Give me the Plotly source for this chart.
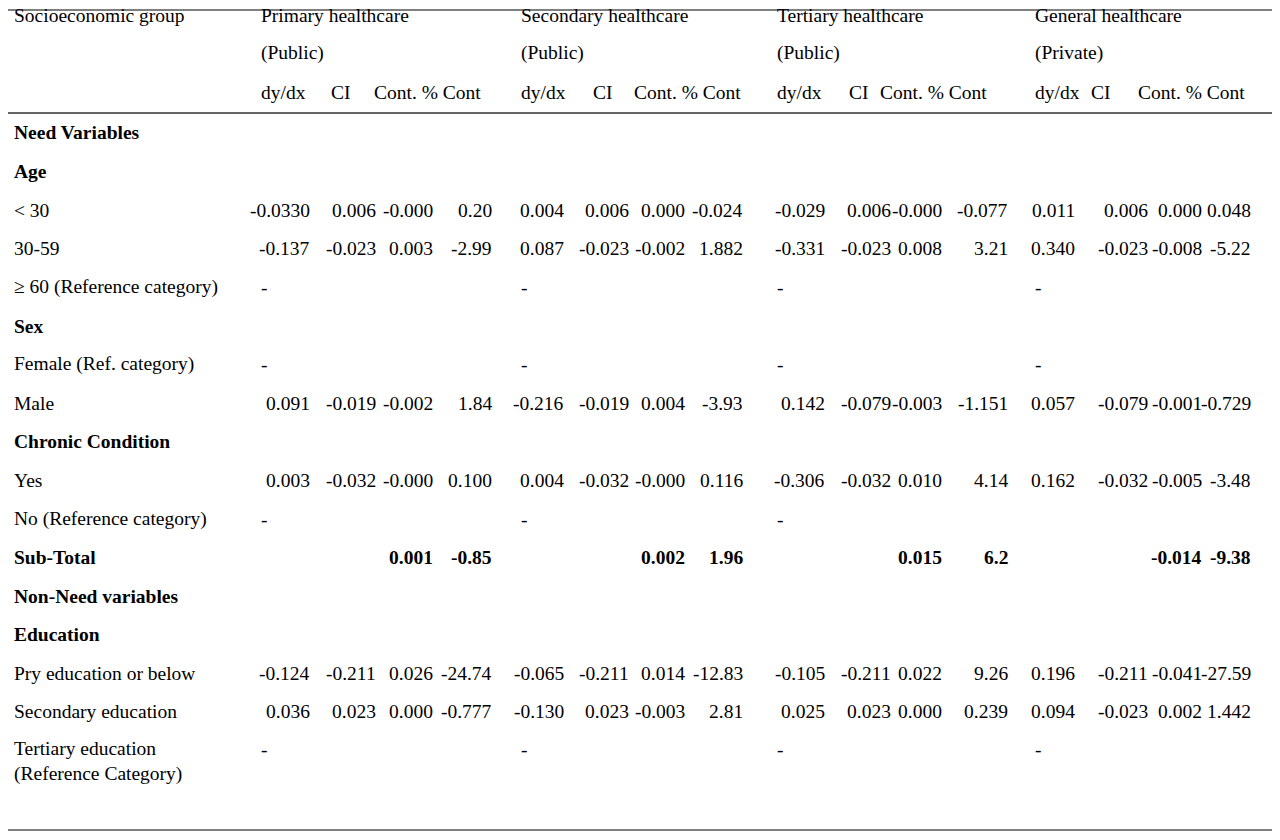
import plotly.graph_objects as go

row_labels = ["Need Variables", "Age", "< 30", "30-59", "\u2265 60 (Reference category)", "Sex",
              "Female (Ref. category)", "Male", "Chronic Condition", "Yes", "No (Reference category)",
              "Sub-Total", "Non-Need variables", "Education", "Pry education or below",
              "Secondary education", "Tertiary education<br>(Reference Category)"]
bold_rows = ["Need Variables", "Age", "Sex", "Chronic Condition", "Sub-Total", "Non-Need variables", "Education"]

groups = ["Primary healthcare", "Secondary healthcare", "Tertiary healthcare", "General healthcare"]
sectors = ["(Public)", "(Public)", "(Public)", "(Private)"]
col_heads = ["dy/dx", "CI", "Cont. % Cont"]

primary = {"< 30": ["-0.0330", "0.006", "-0.000", "0.20"], "30-59": ["-0.137", "-0.023", "0.003", "-2.99"],
           "\u2265 60 (Reference category)": ["-"], "Female (Ref. category)": ["-"],
           "Male": ["0.091", "-0.019", "-0.002", "1.84"], "Yes": ["0.003", "-0.032", "-0.000", "0.100"],
           "No (Reference category)": ["-"], "Sub-Total": ["", "", "0.001", "-0.85"],
           "Pry education or below": ["-0.124", "-0.211", "0.026", "-24.74"],
           "Secondary education": ["0.036", "0.023", "0.000", "-0.777"],
           "Tertiary education<br>(Reference Category)": ["-"]}
secondary = {"< 30": ["0.004", "0.006", "0.000", "-0.024"], "30-59": ["0.087", "-0.023", "-0.002", "1.882"],
             "\u2265 60 (Reference category)": ["-"], "Female (Ref. category)": ["-"],
             "Male": ["-0.216", "-0.019", "0.004", "-3.93"], "Yes": ["0.004", "-0.032", "-0.000", "0.116"],
             "No (Reference category)": ["-"], "Sub-Total": ["", "", "0.002", "1.96"],
             "Pry education or below": ["-0.065", "-0.211", "0.014", "-12.83"],
             "Secondary education": ["-0.130", "0.023", "-0.003", "2.81"],
             "Tertiary education<br>(Reference Category)": ["-"]}
tertiary = {"< 30": ["-0.029", "0.006", "-0.000", "-0.077"], "30-59": ["-0.331", "-0.023", "0.008", "3.21"],
            "\u2265 60 (Reference category)": ["-"], "Female (Ref. category)": ["-"],
            "Male": ["0.142", "-0.079", "-0.003", "-1.151"], "Yes": ["-0.306", "-0.032", "0.010", "4.14"],
            "No (Reference category)": ["-"], "Sub-Total": ["", "", "0.015", "6.2"],
            "Pry education or below": ["-0.105", "-0.211", "0.022", "9.26"],
            "Secondary education": ["0.025", "0.023", "0.000", "0.239"],
            "Tertiary education<br>(Reference Category)": ["-"]}
general = {"< 30": ["0.011", "0.006", "0.000", "0.048"], "30-59": ["0.340", "-0.023", "-0.008", "-5.22"],
           "\u2265 60 (Reference category)": ["-"], "Female (Ref. category)": ["-"],
           "Male": ["0.057", "-0.079", "-0.001", "-0.729"], "Yes": ["0.162", "-0.032", "-0.005", "-3.48"],
           "No (Reference category)": [], "Sub-Total": ["", "", "-0.014", "-9.38"],
           "Pry education or below": ["0.196", "-0.211", "-0.041", "-27.59"],
           "Secondary education": ["0.094", "-0.023", "0.002", "1.442"],
           "Tertiary education<br>(Reference Category)": ["-"]}
group_values = [primary, secondary, tertiary, general]

# layout (pixel coordinates of the 1280x840 page)
group_x = [259, 519, 775, 1033]
head_x = [[259, 329, 372], [519, 591, 632], [775, 847, 878], [1033, 1089, 1136]]
col_right = [[312, 378, 435, 494], [566, 631, 687, 745], [827, 893, 944, 1010], [1077, 1150, 1204, 1253]]
row_y = [132, 171, 210, 248, 287, 326, 364, 403, 441, 480, 519, 557, 596, 634, 673, 711, 761]
FONT = "Liberation Serif"
FS = 19.5

fig = go.Figure()
fig.add_trace(go.Scatter(x=[8, 1272], y=[0, 830], mode="markers", marker=dict(opacity=0),
                         hoverinfo="skip", showlegend=False))

ann = []
def txt(x, y, s, anchor="left", bold=False):
    ann.append(dict(x=x, y=y, text=f"<b>{s}</b>" if bold else s, xref="x", yref="y", showarrow=False,
                    xanchor=anchor, yanchor="middle", font=dict(family=FONT, size=FS, color="black"), align="left"))

txt(12, 15, "Socioeconomic group")
for gi, (gx, g, s) in enumerate(zip(group_x, groups, sectors)):
    txt(gx, 15, g)
    txt(gx, 53, s)
    for hx, h in zip(head_x[gi], col_heads):
        txt(hx, 92, h)

for lab, y in zip(row_labels, row_y):
    txt(12, y, lab, bold=lab in bold_rows)
    for gi, vals in enumerate(group_values):
        v = vals.get(lab)
        if not v:
            continue
        if v == ["-"]:
            txt(group_x[gi], 749 if lab.startswith("Tertiary") else y, "-")
            continue
        for ci, s in enumerate(v):
            if s:
                txt(col_right[gi][ci], y, s, anchor="right", bold=(lab == "Sub-Total"))

fig.update_layout(
    annotations=ann, width=1264, height=824, margin=dict(l=0, r=0, t=0, b=0),
    plot_bgcolor="white", paper_bgcolor="white",
    xaxis=dict(range=[8, 1272], visible=False, fixedrange=True),
    yaxis=dict(range=[832, 8], visible=False, fixedrange=True),
    shapes=[dict(type="line", x0=8, x1=1272, y0=2 + 8, y1=2 + 8, line=dict(color="#555", width=1.5)),
            dict(type="line", x0=8, x1=1272, y0=113, y1=113, line=dict(color="#666", width=2)),
            dict(type="line", x0=8, x1=1272, y0=830, y1=830, line=dict(color="#555", width=1.5))],
)
fig.write_html("out.html")
